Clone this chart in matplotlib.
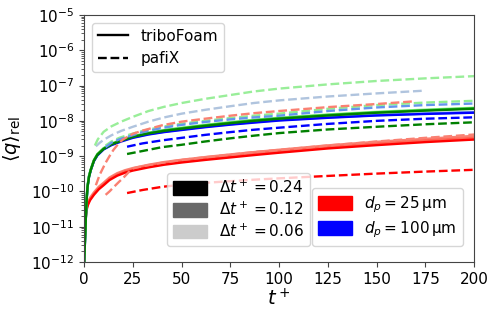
import matplotlib
matplotlib.use("Agg")
import matplotlib.pyplot as plt
from matplotlib.lines import Line2D
from matplotlib.patches import Patch

# triboFoam (solid)
t_red = [0, 0.3, 0.6, 1, 1.5, 2, 3, 5, 7.5, 10, 13, 17, 21, 25, 33, 41, 50, 62, 75, 87, 100, 125, 150, 175, 200]
q_red_024 = [1e-12, 4e-12, 1.2e-11, 2.3e-11, 3.4e-11, 4.2e-11, 5.6e-11, 8e-11, 1.15e-10, 1.5e-10, 2.1e-10,
             2.8e-10, 3.4e-10, 3.9e-10, 4.8e-10, 5.7e-10, 6.6e-10, 7.8e-10, 9.2e-10, 1.07e-9, 1.25e-9,
             1.65e-9, 2.05e-9, 2.5e-9, 2.95e-9]
q_red_012 = [1e-12, 4.3e-12, 1.3e-11, 2.5e-11, 3.7e-11, 4.5e-11, 6e-11, 8.6e-11, 1.24e-10, 1.62e-10, 2.27e-10,
             3.0e-10, 3.7e-10, 4.2e-10, 5.2e-10, 6.2e-10, 7.1e-10, 8.4e-10, 1.0e-9, 1.16e-9, 1.37e-9,
             1.82e-9, 2.28e-9, 2.8e-9, 3.3e-9]
q_red_006 = [1e-12, 4.7e-12, 1.4e-11, 2.7e-11, 4e-11, 5e-11, 6.6e-11, 9.4e-11, 1.36e-10, 1.77e-10, 2.48e-10,
             3.3e-10, 4.0e-10, 4.6e-10, 5.7e-10, 6.8e-10, 7.9e-10, 9.4e-10, 1.12e-9, 1.3e-9, 1.52e-9,
             2.02e-9, 2.55e-9, 3.1e-9, 3.75e-9]

t_bg = [0, 0.5, 0.9, 1.3, 1.7, 2.5, 3.4, 5, 6.8, 10, 14, 19, 25, 33, 41, 50, 62, 75, 87, 100, 125, 150, 175, 200]
q_blue_024 = [1e-12, 5e-12, 2e-11, 6e-11, 1.3e-10, 2.6e-10, 4.0e-10, 7.2e-10, 1.05e-9, 1.55e-9, 2.05e-9, 2.6e-9,
              3.3e-9, 4.1e-9, 4.8e-9, 5.5e-9, 6.6e-9, 7.8e-9, 8.9e-9, 1.02e-8, 1.22e-8, 1.42e-8, 1.57e-8, 1.7e-8]
q_blue_012 = [1e-12, 5.5e-12, 2.1e-11, 6.4e-11, 1.35e-10, 2.7e-10, 4.1e-10, 7.4e-10, 1.08e-9, 1.6e-9, 2.1e-9, 2.7e-9,
              3.4e-9, 4.2e-9, 4.9e-9, 5.7e-9, 6.8e-9, 8.0e-9, 9.2e-9, 1.05e-8, 1.25e-8, 1.45e-8, 1.6e-8, 1.75e-8]
q_blue_006 = [1e-12, 6e-12, 2.2e-11, 6.8e-11, 1.4e-10, 2.8e-10, 4.2e-10, 7.6e-10, 1.11e-9, 1.65e-9, 2.15e-9, 2.8e-9,
              3.5e-9, 4.3e-9, 5.0e-9, 5.9e-9, 7.0e-9, 8.3e-9, 9.5e-9, 1.08e-8, 1.29e-8, 1.5e-8, 1.65e-8, 1.8e-8]
q_green_024 = [1e-12, 5e-12, 2e-11, 6e-11, 1.3e-10, 2.6e-10, 4.1e-10, 7.4e-10, 1.1e-9, 1.6e-9, 2.15e-9, 2.75e-9,
               3.5e-9, 4.4e-9, 5.2e-9, 6.0e-9, 7.2e-9, 8.6e-9, 1.0e-8, 1.15e-8, 1.42e-8, 1.7e-8, 1.95e-8, 2.2e-8]
q_green_012 = [1e-12, 5.5e-12, 2.1e-11, 6.4e-11, 1.35e-10, 2.7e-10, 4.2e-10, 7.6e-10, 1.13e-9, 1.65e-9, 2.2e-9, 2.85e-9,
               3.6e-9, 4.5e-9, 5.4e-9, 6.2e-9, 7.5e-9, 8.9e-9, 1.04e-8, 1.19e-8, 1.47e-8, 1.75e-8, 2.0e-8, 2.28e-8]
q_green_006 = [1e-12, 6e-12, 2.2e-11, 6.8e-11, 1.4e-10, 2.8e-10, 4.3e-10, 7.8e-10, 1.16e-9, 1.7e-9, 2.25e-9, 2.95e-9,
               3.7e-9, 4.6e-9, 5.5e-9, 6.4e-9, 7.7e-9, 9.2e-9, 1.07e-8, 1.23e-8, 1.52e-8, 1.8e-8, 2.08e-8, 2.35e-8]

# pafiX (dashed)
tp_024 = [22, 30, 40, 50, 62, 75, 87, 100, 125, 150, 175, 200]
qp_red_024 = [9e-11, 1.1e-10, 1.35e-10, 1.55e-10, 1.75e-10, 1.95e-10, 2.15e-10, 2.35e-10, 2.75e-10, 3.2e-10, 3.65e-10, 4.1e-10]
qp_blue_024 = [1.85e-9, 2.3e-9, 2.8e-9, 3.3e-9, 4.0e-9, 4.8e-9, 5.6e-9, 6.4e-9, 8.2e-9, 1.0e-8, 1.15e-8, 1.26e-8]
qp_green_024 = [1.15e-9, 1.4e-9, 1.8e-9, 2.1e-9, 2.6e-9, 3.2e-9, 3.8e-9, 4.5e-9, 5.7e-9, 6.8e-9, 8.0e-9, 9.1e-9]

tp_red_012 = [11, 13, 15, 18, 20, 23, 25, 30, 40, 50, 62, 75, 87, 100, 125, 150, 175, 200]
qp_red_012 = [8e-11, 1e-10, 1.3e-10, 1.9e-10, 2.4e-10, 3.6e-10, 4.5e-10, 5.2e-10, 6.5e-10, 7.8e-10, 9.3e-10,
              1.1e-9, 1.3e-9, 1.5e-9, 2.0e-9, 2.6e-9, 3.3e-9, 4.1e-9]
tp_012 = [11, 14, 18, 22, 30, 40, 50, 62, 75, 87, 100, 125, 150, 175, 200]
qp_blue_012 = [1.8e-9, 2.4e-9, 3.0e-9, 3.5e-9, 4.8e-9, 6.3e-9, 7.7e-9, 9.3e-9, 1.1e-8, 1.25e-8, 1.4e-8,
               1.9e-8, 2.4e-8, 2.8e-8, 3.1e-8]
qp_green_012 = [2.0e-9, 2.6e-9, 3.3e-9, 3.9e-9, 5.2e-9, 6.8e-9, 8.3e-9, 1.0e-8, 1.2e-8, 1.4e-8, 1.6e-8,
                2.2e-8, 2.8e-8, 3.3e-8, 3.7e-8]

tp_red_006 = [6, 8, 11, 13, 15, 18, 20, 25, 30, 40, 50, 62, 75, 87, 100, 125, 150, 170]
qp_red_006 = [1.5e-10, 3e-10, 6.5e-10, 1.0e-9, 1.5e-9, 2.4e-9, 3.0e-9, 4.3e-9, 5.3e-9, 7.5e-9, 9.5e-9,
              1.15e-8, 1.4e-8, 1.65e-8, 1.9e-8, 2.45e-8, 3.0e-8, 3.6e-8]
tp_blue_006 = [6, 8, 10, 14, 19, 25, 33, 41, 50, 62, 75, 87, 100, 125, 150, 175]
qp_blue_006 = [1.9e-9, 2.4e-9, 2.9e-9, 3.9e-9, 5.2e-9, 6.8e-9, 9.5e-9, 1.25e-8, 1.6e-8, 2.05e-8, 2.6e-8,
               3.2e-8, 3.8e-8, 4.9e-8, 6.0e-8, 7.2e-8]
tp_green_006 = [5.5, 7, 10, 14, 19, 25, 33, 41, 50, 62, 75, 87, 100, 125, 150, 175, 200]
qp_green_006 = [2.0e-9, 3e-9, 4.9e-9, 7e-9, 9.5e-9, 1.3e-8, 1.9e-8, 2.5e-8, 3.2e-8, 4.2e-8, 5.4e-8, 6.8e-8,
                8.2e-8, 1.08e-7, 1.35e-7, 1.6e-7, 1.85e-7]

dt_labels = [r"$\Delta t^+ = 0.24$", r"$\Delta t^+ = 0.12$", r"$\Delta t^+ = 0.06$"]
dt_colors = ["black", "dimgray", "#cccccc"]
dp_labels = [r"$d_p = 25\,\mathrm{\mu m}$", r"$d_p = 100\,\mathrm{\mu m}$"]

reds = ["red", "#ff6655", "salmon"]
blues = ["blue", "cornflowerblue", "lightsteelblue"]
greens = ["green", "limegreen", "lightgreen"]

fig = plt.figure(figsize=(4.98, 3.17), dpi=100)
ax = fig.add_axes([0.169, 0.1735, 0.783, 0.7792])

lw = 1.7
# solid lines
for q, c in zip([q_red_006, q_red_012, q_red_024], reds[::-1]):
    ax.plot(t_red, q, "-", color=c, lw=lw)
for q, c in zip([q_blue_006, q_blue_012, q_blue_024], blues[::-1]):
    ax.plot(t_bg, q, "-", color=c, lw=lw)
for q, c in zip([q_green_006, q_green_012, q_green_024], greens[::-1]):
    ax.plot(t_bg, q, "-", color=c, lw=lw)

# dashed lines
ax.plot(tp_024, qp_red_024, "--", color=reds[0], lw=lw)
ax.plot(tp_024, qp_blue_024, "--", color=blues[0], lw=lw)
ax.plot(tp_024, qp_green_024, "--", color=greens[0], lw=lw)
ax.plot(tp_red_012, qp_red_012, "--", color=reds[2], lw=lw)
ax.plot(tp_012, qp_green_012, "--", color=greens[2], lw=lw)
ax.plot(tp_012, qp_blue_012, "--", color=blues[1], lw=lw)
ax.plot(tp_red_006, qp_red_006, "--", color=reds[2], lw=lw)
ax.plot(tp_blue_006, qp_blue_006, "--", color=blues[2], lw=lw)
ax.plot(tp_green_006, qp_green_006, "--", color="#99ee99", lw=lw)

ax.set_yscale("log")
ax.set_xlim(0, 200)
ax.set_ylim(1e-12, 1e-5)
ax.set_xticks([0, 25, 50, 75, 100, 125, 150, 175, 200])
ax.tick_params(labelsize=11, which="both", color="#444444")
for s in ax.spines.values():
    s.set_color("#444444")
ax.set_xlabel(r"$t^+$", fontsize=14, labelpad=1)
ax.set_ylabel(r"$\langle q \rangle_\mathrm{rel}$", fontsize=14, labelpad=6)

leg1 = ax.legend([Line2D([], [], color="black", ls="-", lw=lw),
                  Line2D([], [], color="black", ls="--", lw=lw)],
                 ["triboFoam", "pafiX"], loc="upper left", fontsize=11)
ax.add_artist(leg1)

leg2 = ax.legend([Patch(color=c) for c in dt_colors], dt_labels,
                 loc="lower left", bbox_to_anchor=(0.213, 0.065), borderaxespad=0,
                 fontsize=11, handlelength=2.2, handleheight=1.0, labelspacing=0.3)
ax.add_artist(leg2)

ax.legend([Patch(color="red"), Patch(color="blue")], dp_labels,
          loc="lower left", bbox_to_anchor=(0.585, 0.065), borderaxespad=0,
          fontsize=11, handlelength=2.2, handleheight=1.0, labelspacing=0.3)

fig.savefig("out.png", dpi=100)
